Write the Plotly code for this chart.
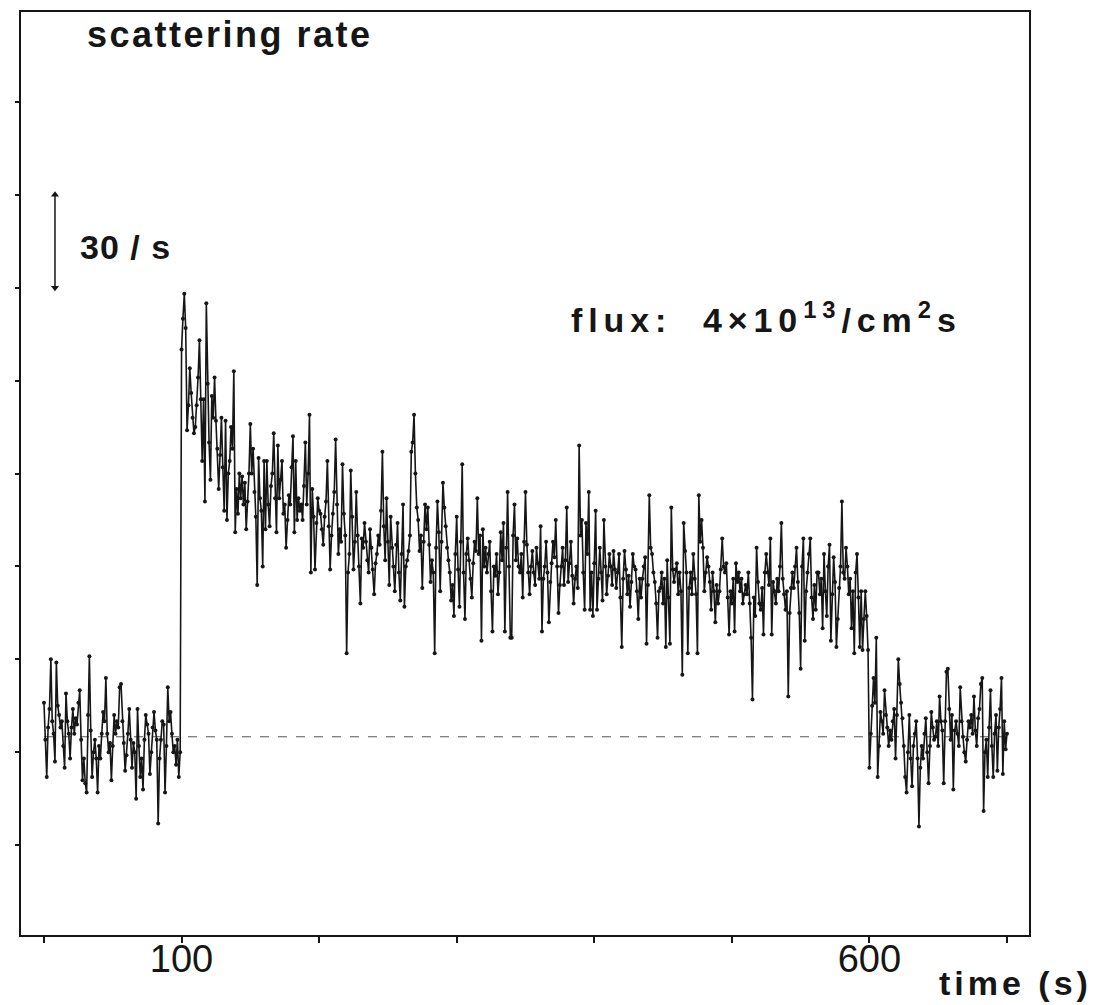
import plotly.graph_objects as go

# ---------------- data ----------------
# time in seconds, scattering rate in counts/s (arbitrary zero, 30/s per tick)
t_pre = list(range(0, 100))
rate_pre = [
    76, 64, 52, 68, 74, 90, 70, 66, 57, 89,
    75, 72, 68, 70, 62, 55, 79, 70, 66, 58,
    68, 74, 66, 71, 69, 76, 80, 64, 51, 58,
    50, 47, 72, 91, 67, 52, 60, 64, 58, 47,
    62, 58, 66, 73, 70, 84, 66, 60, 63, 51,
    62, 72, 66, 70, 68, 81, 82, 70, 63, 54,
    59, 66, 74, 64, 55, 63, 60, 45, 74, 62,
    52, 58, 48, 64, 72, 69, 66, 53, 60, 68,
    73, 67, 64, 37, 58, 64, 70, 69, 47, 62,
    81, 70, 73, 66, 60, 62, 56, 64, 52, 60,
]

t_irr = list(range(100, 600))
rate_irr = [
    190, 200, 208, 197, 164, 172, 184, 176, 168, 163,
    165, 172, 181, 193, 174, 154, 174, 141, 205, 179,
    160, 148, 175, 168, 181, 167, 158, 145, 156, 168,
    152, 138, 167, 135, 150, 154, 165, 158, 183, 131,
    145, 137, 150, 142, 149, 140, 147, 132, 141, 150,
    166, 150, 158, 144, 136, 114, 155, 142, 138, 120,
    154, 132, 154, 140, 133, 146, 150, 163, 142, 131,
    159, 142, 148, 154, 137, 140, 126, 135, 143, 140,
    152, 162, 131, 154, 135, 142, 138, 140, 135, 146,
    160, 140, 150, 169, 118, 145, 136, 119, 134, 142,
    138, 137, 132, 127, 136, 141, 154, 133, 119, 130,
    137, 144, 161, 140, 124, 132, 128, 153, 137, 130,
    92, 118, 124, 151, 136, 119, 128, 144, 130, 120,
    108, 129, 126, 134, 128, 122, 118, 132, 126, 119,
    111, 121, 124, 130, 127, 138, 157, 133, 122, 142,
    128, 114, 136, 126, 120, 112, 127, 134, 118, 109,
    124, 140, 107, 120, 122, 125, 130, 157, 160, 169,
    150, 139, 135, 125, 130, 113, 128, 140, 132, 139,
    127, 115, 122, 118, 92, 126, 141, 131, 112, 128,
    147, 139, 133, 126, 122, 118, 109, 114, 104, 124,
    136, 119, 107, 128, 153, 118, 103, 124, 129, 122,
    116, 110, 121, 128, 125, 142, 124, 130, 96, 132,
    120, 126, 118, 124, 128, 112, 99, 120, 117, 124,
    111, 118, 131, 122, 134, 99, 126, 144, 120, 97,
    97, 130, 140, 122, 129, 120, 118, 124, 110, 128,
    144, 127, 118, 111, 120, 125, 118, 114, 126, 121,
    116, 133, 99, 116, 120, 128, 118, 102, 115, 121,
    128, 123, 135, 120, 105, 114, 120, 126, 114, 122,
    139, 115, 121, 128, 117, 108, 116, 120, 113, 159,
    130, 135, 118, 106, 134, 124, 144, 106, 118, 104,
    121, 138, 106, 116, 126, 118, 109, 135, 120, 111,
    117, 124, 120, 114, 125, 119, 113, 118, 124, 110,
    94, 116, 125, 119, 111, 117, 107, 115, 124, 120,
    119, 112, 103, 116, 110, 116, 120, 123, 95, 114,
    143, 126, 124, 118, 115, 108, 97, 112, 113, 118,
    108, 116, 94, 122, 110, 95, 139, 119, 115, 119,
    121, 111, 118, 112, 85, 134, 125, 118, 92, 113,
    118, 111, 124, 116, 111, 92, 143, 128, 135, 126,
    112, 118, 123, 120, 115, 106, 118, 112, 102, 114,
    108, 112, 119, 129, 120, 118, 121, 110, 98, 112,
    108, 116, 99, 121, 115, 118, 112, 116, 108, 111,
    114, 111, 118, 108, 97, 77, 110, 104, 126, 115,
    108, 106, 113, 98, 118, 124, 118, 114, 129, 98,
    115, 112, 108, 116, 112, 120, 134, 116, 111, 106,
    112, 78, 105, 113, 118, 113, 120, 126, 115, 105,
    87, 120, 129, 96, 112, 118, 124, 129, 110, 103,
    114, 106, 118, 118, 111, 116, 100, 124, 112, 104,
    120, 127, 96, 111, 123, 115, 94, 103, 113, 120,
    141, 118, 116, 126, 120, 111, 116, 100, 112, 92,
    118, 124, 110, 94, 112, 93, 103, 112, 104, 93,
]

t_post = list(range(600, 701))
rate_post = [
    55, 66, 75, 84, 76, 97, 52, 62, 73, 70,
    66, 80, 72, 68, 62, 67, 64, 70, 74, 58,
    72, 90, 82, 76, 71, 62, 52, 47, 60, 72,
    58, 49, 62, 66, 70, 58, 36, 55, 62, 58,
    66, 71, 60, 50, 62, 73, 68, 64, 65, 70,
    62, 78, 70, 67, 50, 70, 86, 87, 74, 64,
    72, 48, 67, 70, 66, 62, 81, 70, 65, 60,
    57, 64, 70, 68, 72, 66, 78, 67, 62, 71,
    74, 82, 84, 41, 60, 64, 52, 68, 80, 62,
    52, 66, 72, 54, 68, 74, 84, 53, 70, 61,
    66,
]

baseline_t = [0, 700]
baseline_rate = [65, 65]

x_labeled_ticks = [100, 600]
x_labeled_text = ["100", "600"]
x_plain_ticks = [0, 200, 300, 400, 500, 700]
y_tickvals = [30, 60, 90, 120, 150, 180, 210, 240, 270]
scale_bar_t = [8, 8]
scale_bar = [210, 240]          # the "30/s" scale arrow

assert len(rate_pre) == len(t_pre)
assert len(rate_irr) == len(t_irr)
assert len(rate_post) == len(t_post)

t_all = t_pre + t_irr + t_post
rate_all = rate_pre + rate_irr + rate_post

INK = "#161616"
FONT = "Liberation Sans, Arial, Helvetica, sans-serif"

fig = go.Figure()
fig.add_trace(go.Scatter(
    x=baseline_t, y=baseline_rate, mode="lines",
    line=dict(color="#555555", width=1, dash="dash"),
    hoverinfo="skip",
))
fig.add_trace(go.Scatter(
    x=t_all, y=rate_all, mode="lines+markers",
    line=dict(color=INK, width=1.6),
    marker=dict(size=4, color=INK),
))
# double-headed scale arrow
fig.add_trace(go.Scatter(
    x=scale_bar_t, y=scale_bar, mode="lines+markers",
    line=dict(color=INK, width=1.5),
    marker=dict(symbol=["triangle-down", "triangle-up"], size=7, color=INK),
    hoverinfo="skip",
))

fig.update_layout(
    width=1103, height=1005,
    margin=dict(l=21, r=74, t=10, b=70),
    paper_bgcolor="white", plot_bgcolor="white",
    showlegend=False,
    font=dict(family=FONT, color=INK),
)
fig.update_xaxes(
    range=[-16.7, 716],
    tickvals=x_labeled_ticks, ticktext=x_labeled_text,
    ticks="outside", ticklen=6, tickwidth=1.5, tickcolor=INK,
    ticklabelstandoff=-16,
    tickfont=dict(size=38, family=FONT, color=INK),
    minor=dict(tickvals=x_plain_ticks, ticks="outside", ticklen=6,
               tickwidth=1.5, tickcolor=INK, showgrid=False),
    showline=True, linecolor=INK, linewidth=1.5, mirror=True,
    showgrid=False, zeroline=False,
)
fig.update_yaxes(
    range=[1, 299],
    tickvals=y_tickvals, showticklabels=False,
    ticks="outside", ticklen=4, tickwidth=1.5, tickcolor=INK,
    showline=True, linecolor=INK, linewidth=1.5, mirror=True,
    showgrid=False, zeroline=False,
)

fig.add_annotation(
    x=29.8, y=291.6, xref="x", yref="y",
    text='<span style="letter-spacing:2.5px">scattering rate</span>',
    showarrow=False, xanchor="left", yanchor="middle",
    font=dict(size=36, family=FONT, color=INK, weight="bold"),
)
fig.add_annotation(
    x=24.7, y=223, xref="x", yref="y",
    text='<span style="letter-spacing:1px">30 / s</span>',
    showarrow=False, xanchor="left", yanchor="middle",
    font=dict(size=34, family=FONT, color=INK, weight="bold"),
)
fig.add_annotation(
    x=381.4, y=200.4, xref="x", yref="y",
    text='<span style="letter-spacing:5.9px">flux:  4×10<sup>13</sup>/cm<sup>2</sup>s</span>',
    showarrow=False, xanchor="left", yanchor="middle",
    font=dict(size=34, family=FONT, color=INK, weight="bold"),
)
fig.add_annotation(
    x=1.064, y=-0.052, xref="paper", yref="paper",
    text='<span style="letter-spacing:4px">time (s)</span>',
    showarrow=False, xanchor="right", yanchor="middle",
    font=dict(size=34, family=FONT, color=INK, weight="bold"),
)

fig.write_html("out.html", config={"displayModeBar": False},
               post_script="document.body.style.margin='0';")
